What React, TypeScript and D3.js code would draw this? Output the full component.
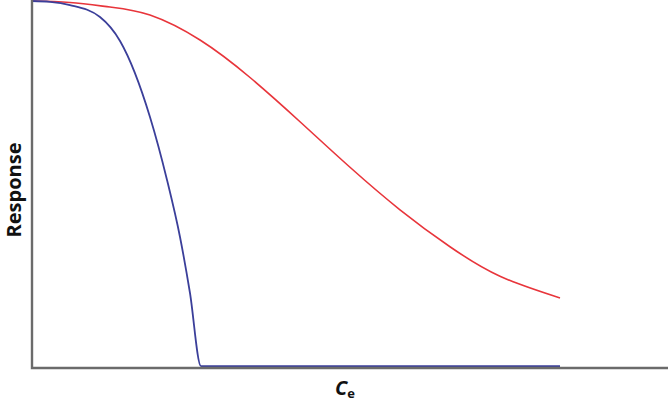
import React from "react";
import * as d3 from "d3";

const W = 668;
const H = 410;

const redX = [0, 5.97, 12.26, 18.55, 26.42, 34.28, 42.14, 50.0, 57.86, 65.72, 73.58, 83.02];
const redY = [99.73, 99.32, 98.1, 95.92, 89.13, 78.94, 66.92, 54.55, 43.0, 32.95, 24.93, 19.02];

const blueX = [0, 2.83, 5.97, 10.69, 13.84, 18.55, 21.23, 23.27, 24.84, 26.57, 40, 60, 83.02];
const blueY = [99.73, 99.51, 98.64, 95.38, 88.86, 68.21, 51.09, 35.6, 20.38, 0.5, 0.5, 0.5, 0.5];

const yLabel = "Response";
const xLabelMain = "C";
const xLabelSub = "e";

export default function App() {
  const x = d3.scaleLinear().domain([0, 100]).range([32, 668]);
  const y = d3.scaleLinear().domain([0, 100]).range([368, 0]);
  const redLine = d3
    .line<[number, number]>()
    .x((d) => x(d[0]))
    .y((d) => y(d[1]))
    .curve(d3.curveNatural);
  const blueLine = d3
    .line<[number, number]>()
    .x((d) => x(d[0]))
    .y((d) => y(d[1]))
    .curve(d3.curveMonotoneX);
  const red = redLine(redX.map((v, i) => [v, redY[i]] as [number, number])) || "";
  const blue = blueLine(blueX.map((v, i) => [v, blueY[i]] as [number, number])) || "";
  return (
    <svg
      width={W}
      height={H}
      style={{ position: "absolute", left: 0, top: 0, background: "#fff" }}
      fontFamily="'Open Sans', sans-serif"
    >
      <path d={red} fill="none" stroke="#e8353b" strokeWidth={1.6} />
      <path d={blue} fill="none" stroke="#3b3f9a" strokeWidth={1.8} />
      <path
        d={`M${x(0)},${y(100)}V${y(0)}H${x(100)}`}
        fill="none"
        stroke="#6b6b6b"
        strokeWidth={2.4}
      />
      <text
        transform={`translate(21,${190}) rotate(-90)`}
        textAnchor="middle"
        fontSize={20}
        fontWeight="bold"
        fill="#111"
      >
        {yLabel}
      </text>
      <text x={335} y={395} fontSize={20} fontWeight="bold" fontStyle="italic" fill="#111">
        {xLabelMain}
        <tspan dy={3} fontSize={13} fontStyle="normal">
          {xLabelSub}
        </tspan>
      </text>
    </svg>
  );
}
